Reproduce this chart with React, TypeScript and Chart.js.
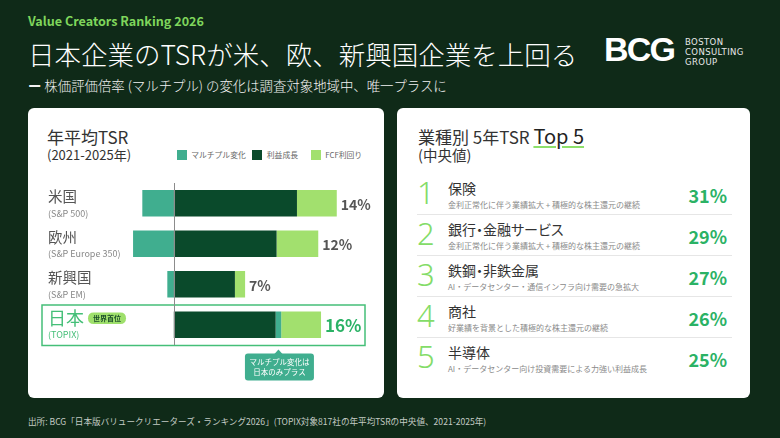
import React, { useEffect, useRef } from "react";
import { Chart, registerables } from "chart.js";

Chart.register(...registerables);

// ---------- data ----------
const regions = ["米国", "欧州", "新興国", "日本"];
const regionIndices = ["(S&P 500)", "(S&P Europe 350)", "(S&P EM)", "(TOPIX)"];
const multipleChange = [-3.4, -4.4, -0.7, 0.6];
const profitGrowth = [13.3, 11.1, 6.6, 11.0];
const fcfYield = [4.3, 4.5, 1.1, 4.3];
const totalTsrLabels = ["14%", "12%", "7%", "16%"];
const seriesNames = ["マルチプル変化", "利益成長", "FCF利回り"];
const highlightRegion = "日本";
const highlightBadge = "世界首位";
const calloutLines = ["マルチプル変化は", "日本のみプラス"];

const industryNames = ["保険", "銀行・金融サービス", "鉄鋼・非鉄金属", "商社", "半導体"];
const industryNotes = [
  "金利正常化に伴う業績拡大 + 積極的な株主還元の継続",
  "金利正常化に伴う業績拡大 + 積極的な株主還元の継続",
  "AI・データセンター・通信インフラ向け需要の急拡大",
  "好業績を背景とした積極的な株主還元の継続",
  "AI・データセンター向け投資需要による力強い利益成長",
];
const industryTsr = ["31%", "29%", "27%", "26%", "25%"];

// ---------- styles ----------
const BG = "#0f2a18";
const C_MULT = "#40ae8f";
const C_PROFIT = "#0a4a2b";
const C_FCF = "#a2e06e";
const C_HI = "#45bf78";
const C_PCT = "#2bb265";
const C_NUM = "#84dc68";
const FONT = "'Noto Sans CJK JP', 'Noto Sans', sans-serif";
const seriesColors = [C_MULT, C_PROFIT, C_FCF];

function roundRect(ctx: CanvasRenderingContext2D, x: number, y: number, w: number, h: number, r: number) {
  ctx.beginPath();
  ctx.moveTo(x + r, y);
  ctx.lineTo(x + w - r, y);
  ctx.quadraticCurveTo(x + w, y, x + w, y + r);
  ctx.lineTo(x + w, y + h - r);
  ctx.quadraticCurveTo(x + w, y + h, x + w - r, y + h);
  ctx.lineTo(x + r, y + h);
  ctx.quadraticCurveTo(x, y + h, x, y + h - r);
  ctx.lineTo(x, y + r);
  ctx.quadraticCurveTo(x, y, x + r, y);
  ctx.closePath();
}

const overlayPlugin = {
  id: "overlay",
  beforeDatasetsDraw(chart: any) {
    const { ctx, chartArea, scales } = chart;
    const band = (chartArea.bottom - chartArea.top) / regions.length;
    const hi = regions.indexOf(highlightRegion);
    const hy = scales.y.getPixelForValue(hi);
    ctx.save();
    ctx.strokeStyle = C_HI;
    ctx.lineWidth = 1.5;
    ctx.strokeRect(14, hy - band / 2 + 0.5, chartArea.right + 6 - 14, band);
    ctx.restore();
  },
  afterDatasetsDraw(chart: any) {
    const { ctx, chartArea, scales } = chart;
    const xS = scales.x;
    const yS = scales.y;
    const band = (chartArea.bottom - chartArea.top) / regions.length;
    const hi = regions.indexOf(highlightRegion);
    ctx.save();
    // zero line
    const x0 = Math.round(xS.getPixelForValue(0)) + 0.5;
    ctx.strokeStyle = "#8c8c8c";
    ctx.lineWidth = 1;
    ctx.beginPath();
    ctx.moveTo(x0, chartArea.top);
    ctx.lineTo(x0, chartArea.bottom);
    ctx.stroke();

    ctx.textBaseline = "middle";
    regions.forEach((name, i) => {
      const yc = yS.getPixelForValue(i);
      const isHi = i === hi;
      // category label
      ctx.textAlign = "left";
      ctx.fillStyle = isHi ? C_HI : "#555";
      ctx.font = `${isHi ? 18 : 14.5}px ${FONT}`;
      ctx.fillText(name, 20, yc - 6.5);
      const nameW = ctx.measureText(name).width;
      ctx.font = `9px ${FONT}`;
      ctx.fillStyle = isHi ? C_HI : "#888";
      ctx.fillText(regionIndices[i], 20, yc + 10);
      if (isHi) {
        const bx = 20 + nameW + 4;
        const by = yc - 6.5;
        ctx.fillStyle = "#9fe06c";
        roundRect(ctx, bx, by - 5.75, 38, 11.5, 5.75);
        ctx.fill();
        ctx.fillStyle = "#1d4f2a";
        ctx.font = `bold 7px ${FONT}`;
        ctx.textAlign = "center";
        ctx.fillText(highlightBadge, bx + 19, by + 0.5);
      }
      // total label
      const posSum = profitGrowth[i] + Math.max(multipleChange[i], 0) + fcfYield[i];
      const vx = xS.getPixelForValue(posSum) + 4;
      ctx.textAlign = "left";
      ctx.fillStyle = isHi ? C_PCT : "#555";
      ctx.font = `bold ${isHi ? 17 : 14}px ${FONT}`;
      ctx.fillText(totalTsrLabels[i], vx, yc + 1);
    });

    // callout
    const hy = yS.getPixelForValue(hi);
    const px = xS.getPixelForValue(profitGrowth[hi] + multipleChange[hi] / 2);
    const bandBottom = hy + band / 2;
    const top = bandBottom + 8.5;
    const bw = 69;
    const bh = 27;
    ctx.fillStyle = C_MULT;
    ctx.beginPath();
    ctx.moveTo(px - 4.5, top + 1);
    ctx.lineTo(px, bandBottom + 4.5);
    ctx.lineTo(px + 4.5, top + 1);
    ctx.closePath();
    ctx.fill();
    roundRect(ctx, px - bw / 2 + 1, top, bw, bh, 3);
    ctx.fill();
    ctx.fillStyle = "#ffffff";
    ctx.font = `7.5px ${FONT}`;
    ctx.textAlign = "center";
    calloutLines.forEach((t, k) => ctx.fillText(t, px + 1, top + 8.5 + k * 10));
    ctx.restore();
  },
};

function TsrChart() {
  const ref = useRef<HTMLCanvasElement | null>(null);
  useEffect(() => {
    if (!ref.current) return;
    const chart = new Chart(ref.current, {
      type: "bar",
      data: {
        labels: regions,
        datasets: [
          { label: seriesNames[1], data: profitGrowth, backgroundColor: C_PROFIT, stack: "s" },
          { label: seriesNames[0], data: multipleChange, backgroundColor: C_MULT, stack: "s" },
          { label: seriesNames[2], data: fcfYield, backgroundColor: C_FCF, stack: "s" },
        ],
      },
      options: {
        indexAxis: "y",
        animation: false,
        responsive: false,
        maintainAspectRatio: false,
        events: [],
        layout: { padding: { left: 99.5, right: 25, top: 8, bottom: 45 } },
        scales: {
          x: { stacked: true, min: -5, max: 20, display: false },
          y: { stacked: true, display: false },
        },
        datasets: {
          bar: { categoryPercentage: 1, barPercentage: 0.66, borderWidth: 0 },
        },
        plugins: { legend: { display: false }, tooltip: { enabled: false } },
      } as any,
      plugins: [overlayPlugin],
    });
    return () => chart.destroy();
  }, []);
  return (
    <canvas
      ref={ref}
      width={356}
      height={215}
      style={{ position: "absolute", left: 0, top: 67, width: 356, height: 215 }}
    />
  );
}

const abs = (left: number, centerY: number, size: number, extra: any = {}) => ({
  position: "absolute" as const,
  left,
  top: centerY - size * 0.7,
  fontSize: size,
  lineHeight: `${size * 1.4}px`,
  whiteSpace: "nowrap" as const,
  ...extra,
});

export default function App() {
  useEffect(() => {
    document.body.style.margin = "0";
  }, []);
  return (
    <div
      style={{
        position: "absolute",
        left: 0,
        top: 0,
        width: 780,
        height: 438,
        background: BG,
        overflow: "hidden",
        fontFamily: FONT,
        color: "#fff",
      }}
    >
      <div style={abs(28, 21, 12.6, { fontWeight: 700, color: "#7fd65c" })}>Value Creators Ranking 2026</div>
      <div style={abs(28, 54, 26.5, { fontWeight: 300, color: "#fff" })}>日本企業のTSRが米、欧、新興国企業を上回る</div>
      <div style={abs(28, 85, 13.4, { fontWeight: 300, color: "#f2f2f2" })}>
        <span style={{ fontWeight: 700 }}>ー</span> 株価評価倍率 (マルチプル) の変化は調査対象地域中、唯一プラスに
      </div>

      {/* BCG logo */}
      <div
        style={abs(604, 50, 34, {
          fontFamily: "'Liberation Sans', Arial, sans-serif",
          fontWeight: 700,
          letterSpacing: -1.8,
          color: "#fff",
        })}
      >
        BCG
      </div>
      {["BOSTON", "CONSULTING", "GROUP"].map((t, i) => (
        <div
          key={t}
          style={abs(685, 43 + i * 10, 8.5, {
            fontFamily: "'DejaVu Sans', sans-serif",
            fontWeight: 400,
            letterSpacing: 0.4,
            color: "#e8e8e8",
          })}
        >
          {t}
        </div>
      ))}

      {/* Left card */}
      <div
        style={{
          position: "absolute",
          left: 28,
          top: 108,
          width: 356,
          height: 290,
          background: "#fff",
          borderRadius: 6,
          color: "#333",
        }}
      >
        <div style={abs(19, 29, 17, { color: "#333" })}>年平均TSR</div>
        <div style={abs(19, 47, 13, { color: "#333" })}>(2021-2025年)</div>
        {seriesNames.map((s, i) => {
          const lefts = [148.7, 224.3, 282.7];
          return (
            <div key={s} style={{ position: "absolute", left: lefts[i], top: 42, height: 10, display: "flex", alignItems: "center" }}>
              <div style={{ width: 10, height: 10, background: seriesColors[i] }} />
              <div style={{ marginLeft: 4.5, fontSize: 7.8, lineHeight: "10px", color: "#666", whiteSpace: "nowrap" }}>{s}</div>
            </div>
          );
        })}
        <TsrChart />
      </div>

      {/* Right card */}
      <div
        style={{
          position: "absolute",
          left: 397,
          top: 108,
          width: 353,
          height: 290,
          background: "#fff",
          borderRadius: 6,
          color: "#333",
        }}
      >
        <div style={abs(21, 28, 17, { color: "#333" })}>
          業種別 5年TSR{" "}
          <span
            style={{
              fontSize: 20,
              fontWeight: 400,
              color: "#222",
              textDecoration: "underline",
              textDecorationColor: "#8de06a",
              textDecorationThickness: "2px",
              textUnderlineOffset: "2px",
            }}
          >
            Top 5
          </span>
        </div>
        <div style={abs(21, 47, 14.5, { color: "#333" })}>(中央値)</div>
        {industryNames.map((name, i) => {
          const rowTop = 65 + i * 41;
          return (
            <div key={name}>
              <div
                style={abs(20, rowTop + 20, 31, {
                  fontFamily: "'Noto Sans', 'Open Sans', sans-serif",
                  fontWeight: 300,
                  color: C_NUM,
                })}
              >
                {i + 1}
              </div>
              <div style={abs(51, rowTop + 16, 14, { color: "#333", fontFeatureSettings: "'palt'" })}>{name}</div>
              <div style={abs(51, rowTop + 31.5, 8, { color: "#8a8a8a" })}>{industryNotes[i]}</div>
              <div
                style={{
                  position: "absolute",
                  right: 23,
                  top: rowTop + 23 - 12.6,
                  fontSize: 18,
                  lineHeight: "25.2px",
                  fontWeight: 700,
                  color: C_PCT,
                }}
              >
                {industryTsr[i]}
              </div>
              {i < industryNames.length - 1 && (
                <div style={{ position: "absolute", left: 20, top: rowTop + 41, width: 315, height: 1, background: "#e6e6e6" }} />
              )}
            </div>
          );
        })}
      </div>

      <div style={abs(28, 421, 8.6, { color: "#c3cbc4" })}>
        出所: BCG「日本版バリュークリエーターズ・ランキング2026」(TOPIX対象817社の年平均TSRの中央値、2021-2025年)
      </div>
    </div>
  );
}
